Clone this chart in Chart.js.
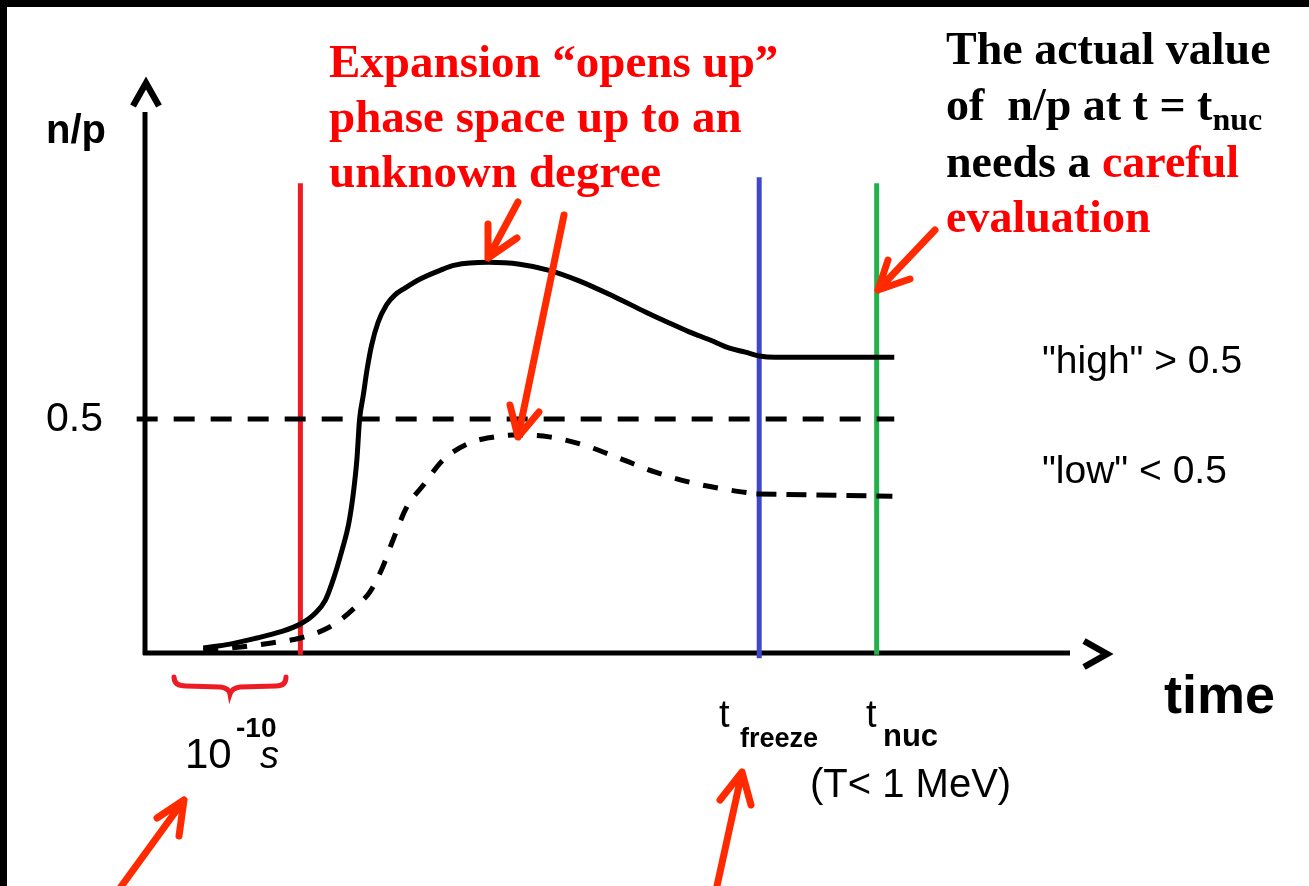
<!DOCTYPE html>
<html>
<head>
<meta charset="utf-8">
<script src="https://cdn.jsdelivr.net/npm/chart.js@4/dist/chart.umd.min.js"></script>
<style>
  html, body { margin: 0; padding: 0; background: #fff; }
  #wrap { position: relative; width: 1309px; height: 886px; }
</style>
</head>
<body>
<div id="wrap"><canvas id="myChart"></canvas></div>
<script>
// values (time in arbitrary units, n/p ratio)
const timeHigh = [6.3, 9.2, 12.1, 14.6, 16.8, 18.4, 19.5, 20.4, 21.3, 22.0, 22.5, 22.9, 23.2, 23.6, 24.0, 24.5, 25.2, 26.1, 27.0, 28.1, 29.7, 31.9, 33.5, 37.1, 40.5, 43.7, 47.0, 50.8, 54.1, 56.5, 58.9, 61.1, 63.1, 64.9, 66.4, 68.1, 81.0];
const ratioHigh = [0.011, 0.019, 0.032, 0.045, 0.062, 0.085, 0.113, 0.160, 0.220, 0.274, 0.338, 0.412, 0.500, 0.551, 0.605, 0.658, 0.707, 0.744, 0.765, 0.780, 0.799, 0.818, 0.829, 0.835, 0.831, 0.818, 0.795, 0.761, 0.729, 0.707, 0.686, 0.669, 0.652, 0.643, 0.635, 0.632, 0.632];

const timeLow = [6.3, 10.3, 13.5, 16.8, 19.7, 21.4, 23.0, 24.3, 25.7, 26.8, 28.3, 30.1, 32.2, 35.1, 37.8, 39.8, 43.7, 47.5, 51.2, 55.1, 58.9, 62.7, 66.1];
const ratioLow = [0.006, 0.013, 0.021, 0.032, 0.053, 0.075, 0.103, 0.130, 0.184, 0.241, 0.312, 0.359, 0.412, 0.449, 0.462, 0.466, 0.462, 0.444, 0.417, 0.387, 0.365, 0.350, 0.340];
const timeLowFlat = [66.1, 80.8];
const ratioLowFlat = [0.340, 0.335];

const refTime = [-0.9, 81.0];
const refRatio = 0.5;

// vertical markers: 10^-10 s, t_freeze, t_nuc
const markerTime = [16.8, 66.4, 79.1];
const markerTop = [1.004, 1.017, 1.004];
const markerBottom = [-0.004, -0.011, -0.004];
const markerColor = ['#ed1c24', '#3f48cc', '#22b14c'];

const arrowRed = '#ff2a00';

function pts(xs, ys) {
    return xs.map((x, i) => ({ x: x, y: Array.isArray(ys) ? ys[i] : ys }))
}

let datasets = []

datasets.push({
    label: 'high',
    data: pts(timeHigh, ratioHigh),
    borderColor: '#000',
    borderWidth: 5,
    cubicInterpolationMode: 'monotone',
    pointRadius: 0,
    clip: false,
    order: 1
})
datasets.push({
    label: 'low',
    data: pts(timeLow, ratioLow),
    borderColor: '#000',
    borderWidth: 5,
    borderDash: [15, 14],
    cubicInterpolationMode: 'monotone',
    pointRadius: 0,
    clip: false,
    order: 1
})
datasets.push({
    label: 'low flat',
    data: pts(timeLowFlat, ratioLowFlat),
    borderColor: '#000',
    borderWidth: 5,
    borderDash: [20, 10],
    pointRadius: 0,
    clip: false,
    order: 1
})
datasets.push({
    label: '0.5',
    data: pts(refTime, refRatio),
    borderColor: '#000',
    borderWidth: 5,
    borderDash: [21, 16],
    pointRadius: 0,
    clip: false,
    order: 2
})
markerTime.forEach((t, i) => {
    datasets.push({
        label: 'marker' + i,
        data: [{ x: t, y: markerBottom[i] }, { x: t, y: markerTop[i] }],
        borderColor: markerColor[i],
        borderWidth: 5,
        pointRadius: 0,
        clip: false,
        order: 3
    })
})

function txt(ctx, s, x, y, font, color) {
    ctx.font = font
    ctx.fillStyle = color || '#000'
    ctx.textBaseline = 'alphabetic'
    ctx.textAlign = 'left'
    ctx.fillText(s, x, y)
    return x + ctx.measureText(s).width
}

function arrow(ctx, tail, tip, arm1, arm2) {
    ctx.save()
    ctx.strokeStyle = arrowRed
    ctx.lineWidth = 7
    ctx.lineCap = 'round'
    ctx.lineJoin = 'round'
    ctx.beginPath()
    ctx.moveTo(tail[0], tail[1])
    ctx.lineTo(tip[0], tip[1])
    ctx.moveTo(arm1[0], arm1[1])
    ctx.lineTo(tip[0], tip[1])
    ctx.lineTo(arm2[0], arm2[1])
    ctx.stroke()
    ctx.restore()
}

const overlay = {
    id: 'overlay',
    beforeDatasetsDraw(chart) {
        let ctx = chart.ctx
        let xs = chart.scales.x
        let ys = chart.scales.y
        let x0 = xs.getPixelForValue(0)
        let y0 = ys.getPixelForValue(0)
        ctx.save()
        ctx.strokeStyle = '#000'
        ctx.lineWidth = 5
        ctx.beginPath()
        ctx.moveTo(x0, chart.chartArea.top - 3)
        ctx.lineTo(x0, y0 + 2)
        ctx.moveTo(x0 - 2, y0)
        ctx.lineTo(chart.chartArea.right, y0)
        ctx.stroke()
        // arrow heads drawn like the ^ and > glyphs
        ctx.lineWidth = 6.5
        ctx.lineJoin = 'miter'
        ctx.beginPath()
        ctx.moveTo(x0 - 12, 106)
        ctx.lineTo(x0 + 1, 83)
        ctx.lineTo(x0 + 14, 106)
        ctx.moveTo(chart.chartArea.right + 14, 641)
        ctx.lineTo(chart.chartArea.right + 37, 654)
        ctx.lineTo(chart.chartArea.right + 14, 667)
        ctx.stroke()
        ctx.restore()
    },
    afterDatasetsDraw(chart) {
        let ctx = chart.ctx
        ctx.save()

        // red brace under the axis
        ctx.strokeStyle = '#ed1c24'
        ctx.lineWidth = 5
        ctx.lineCap = 'round'
        ctx.beginPath()
        ctx.moveTo(174, 677)
        ctx.quadraticCurveTo(174, 686, 186, 686)
        ctx.lineTo(220, 687)
        ctx.quadraticCurveTo(229, 688, 230, 694)
        ctx.quadraticCurveTo(232, 688, 240, 687)
        ctx.lineTo(276, 686)
        ctx.quadraticCurveTo(286, 686, 286, 677)
        ctx.stroke()

        // arrows
        arrow(ctx, [518, 202], [488, 258], [488, 224], [517, 238])
        arrow(ctx, [564, 215], [518, 437], [510, 405], [539, 412])
        arrow(ctx, [935, 230], [878, 290], [888, 260], [910, 279])
        arrow(ctx, [115, 895], [184, 800], [157, 818], [179, 836])
        arrow(ctx, [715, 895], [742, 772], [720, 800], [751, 805])

        // axis labels
        const sans = "'Liberation Sans', Arial, sans-serif"
        const serif = "'Liberation Serif', 'Times New Roman', serif"
        txt(ctx, 'n/p', 46, 143, 'bold 40px ' + sans)
        txt(ctx, '0.5', 46, 431, '41px ' + sans)
        txt(ctx, 'time', 1164, 713, 'bold 54px ' + sans)
        txt(ctx, 't', 719, 727, '38px ' + sans)
        txt(ctx, 'freeze', 740, 747, 'bold 27px ' + sans)
        txt(ctx, 't', 866, 727, '38px ' + sans)
        txt(ctx, 'nuc', 883, 746, 'bold 31px ' + sans)
        txt(ctx, '(T< 1 MeV)', 810, 797, '40px ' + sans)
        txt(ctx, '10', 185, 768, '42px ' + sans)
        txt(ctx, '-10', 236, 737, 'bold 28px ' + sans)
        txt(ctx, 's', 260, 768, 'italic 38px ' + sans)
        txt(ctx, '"high" > 0.5', 1042, 373, '39px ' + sans)
        txt(ctx, '"low" < 0.5', 1042, 483, '39px ' + sans)

        // red note
        const red = '#ff0000'
        txt(ctx, 'Expansion \u201copens up\u201d', 329, 77, 'bold 47px ' + serif, red)
        txt(ctx, 'phase space up to an', 329, 132, 'bold 47px ' + serif, red)
        txt(ctx, 'unknown degree', 329, 187, 'bold 47px ' + serif, red)

        // black note
        txt(ctx, 'The actual value', 946, 64, 'bold 46px ' + serif)
        let xe = txt(ctx, 'of  n/p at t = t', 946, 120, 'bold 46px ' + serif)
        txt(ctx, 'nuc', xe, 130, 'bold 32px ' + serif)
        xe = txt(ctx, 'needs a ', 946, 177, 'bold 46px ' + serif)
        txt(ctx, 'careful', xe, 177, 'bold 46px ' + serif, red)
        txt(ctx, 'evaluation', 946, 232, 'bold 46px ' + serif, red)

        // black frame on top and left
        ctx.fillStyle = '#000'
        ctx.fillRect(0, 0, chart.width, 7)
        ctx.fillRect(0, 0, 7, chart.height)
        ctx.restore()
    }
}

const ctx = document.getElementById('myChart');

new Chart(ctx, {
    type: 'line',
    data: { datasets: datasets },
    options: {
        responsive: true,
        maintainAspectRatio: false,
        animation: false,
        layout: {
            padding: { left: 145, right: 239, top: 115, bottom: 233 }
        },
        scales: {
            x: { type: 'linear', min: 0, max: 100, display: false },
            y: { type: 'linear', min: 0, max: 1.15, display: false }
        },
        plugins: {
            legend: { display: false },
            tooltip: { enabled: false }
        }
    },
    plugins: [overlay]
});
</script>
</body>
</html>
